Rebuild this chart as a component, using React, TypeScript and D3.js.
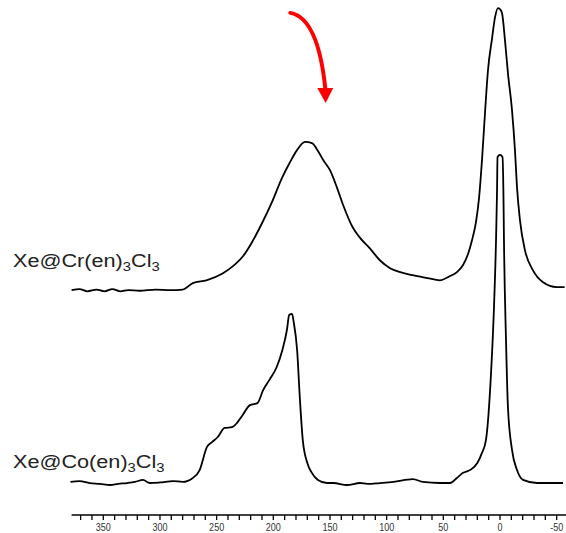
import React from "react";
import * as d3 from "d3";

// 129Xe NMR spectra, chemical shift (ppm) vs. intensity (a.u.)
const crShift = [378, 371, 364, 356, 349, 342, 335, 328, 318, 304, 291, 280, 271, 259, 244.4, 235.6, 226.8, 218.8, 210, 201.2, 192.4, 185.3, 179.1, 172, 165.9, 161, 156, 150, 144, 139, 130, 124, 115, 106, 97, 88, 77, 64, 53, 44, 38, 32.6, 28.2, 24.7, 21.2, 18.5, 15.9, 13.2, 10.6, 7, 4.4, 1.8, 0, -1.8, -4.4, -7, -10.6, -13.2, -15, -17.6, -22, -29, -38, -50, -57];
const crIntensity = [0, 0.4, -0.4, 0.2, -0.4, 0.4, -0.4, 0, -0.2, 0.2, 0, 0.2, 2.5, 3.5, 6.0, 8.5, 12.0, 17.0, 23.7, 31.2, 39.7, 45.3, 49.6, 52.5, 52.1, 49.6, 46.1, 42.5, 36.5, 30.8, 22.3, 18.8, 14.9, 10.6, 7.8, 6.4, 5.3, 4.3, 3.5, 5.0, 6.4, 8.9, 12.8, 17.7, 24.1, 32.6, 46.0, 63.0, 77.9, 89.2, 96.6, 99.9, 99.5, 98.1, 88.5, 76.9, 63.7, 49.6, 36.5, 24.8, 14.2, 7.1, 2.8, 1.1, 1.1];

const coShift = [379, 371, 362, 353, 344, 337, 329, 322, 315, 309, 300, 288.5, 280, 271, 265, 258.5, 254, 249, 243, 236.5, 232, 227, 220.6, 214, 209, 203, 197, 192, 188, 186, 183.5, 182, 179, 176.5, 174, 170, 166, 160.6, 152.6, 147, 135, 123.5, 117, 106, 94, 77, 68, 53, 44, 38, 32.6, 26.5, 20, 16, 12.4, 7.9, 5.3, 3.5, 2.6, 2.2, 0, -2.2, -3.1, -3.5, -5.3, -7, -10.6, -15, -20.3, -32.6, -44, -55.6];
const coIntensity = [1.1, 1.4, 0.7, 0.4, 0, 0.4, 0.7, 1.1, 1.8, 0.7, 0.9, 1.4, 1.1, 2.5, 5.3, 13.5, 15.2, 17.0, 20.2, 20.5, 22.0, 24.8, 28.3, 29.0, 33.6, 37.5, 41.8, 47.8, 54.9, 60.2, 60.6, 57.7, 47.8, 30.1, 15.9, 7.8, 4.3, 1.8, 0.7, 0.7, 0, 0.7, 0.4, 0.7, 1.1, 2.1, 1.1, 0.7, 0.7, 2.5, 4.3, 5.3, 7.8, 11.3, 15.9, 39.7, 63.0, 86.8, 104.5, 116.2, 116.9, 116.2, 100.9, 86.8, 51.4, 27.6, 12.4, 5.3, 1.8, 0.7, 0.7, 0.7];

const seriesNames = ["Cr", "Co"];
const seriesOffsets = [69, 0];
const tickLabels = [350, 300, 250, 200, 150, 100, 50, 0, -50];

// Annotation arrow (ppm, intensity on the Cr trace)
const arrowStart = [185, 98.2];
const arrowControl = [160.6, 96.4];
const arrowEnd = [154.2, 71.6];
const arrowTip = [153.8, 66.3];

const W = 566;
const H = 533;

function SampleLabel({ metal, x, y }: { metal: string; x: number; y: number }) {
  return (
    <text
      x={x}
      y={y}
      fontFamily="Arial, 'Liberation Sans', Helvetica, sans-serif"
      fontSize={19}
      fill="#222"
      transform={`translate(${x},0) scale(1.14,1) translate(${-x},0)`}
    >
      {`Xe@${metal}(en)`}
      <tspan fontSize={13} dy={4}>3</tspan>
      <tspan dy={-4}>Cl</tspan>
      <tspan fontSize={13} dy={4}>3</tspan>
    </text>
  );
}

export default function App() {
  const x = d3.scaleLinear().domain([350, 0]).range([103.3, 500]);
  const y = d3.scaleLinear().domain([0, 170]).range([485, 5]);
  const axisY = 515;
  const xMin = x(378);
  const xMax = W;

  const line = d3
    .line<[number, number]>()
    .x((d) => x(d[0]))
    .y((d) => y(d[1]))
    .curve(d3.curveMonotoneX);

  const traces = [
    crShift.map((s, i) => [s, crIntensity[i] + seriesOffsets[0]] as [number, number]),
    coShift.map((s, i) => [s, coIntensity[i] + seriesOffsets[1]] as [number, number]),
  ];

  const minorTicks = d3.range(-50, 371, 10);

  const off = seriesOffsets[0];
  const ax = (p: number[]) => [x(p[0]), y(p[1] + off)];
  const [sx, sy] = ax(arrowStart);
  const [cx, cy] = ax(arrowControl);
  const [ex, ey] = ax(arrowEnd);
  const [tx, ty] = ax(arrowTip);

  const font = "Arial, 'Liberation Sans', Helvetica, sans-serif";

  return (
    <svg
      width={W}
      height={H}
      style={{ position: "absolute", left: 0, top: 0, background: "#fff" }}
    >
      <rect width={W} height={H} fill="#fff" />
      {traces.map((t, i) => (
        <path
          key={seriesNames[i]}
          d={line(t) ?? ""}
          fill="none"
          stroke="#000"
          strokeWidth={1.8}
          strokeLinejoin="round"
        />
      ))}

      {/* axis */}
      <line x1={xMin} x2={xMax} y1={axisY} y2={axisY} stroke="#000" strokeWidth={1.6} />
      {minorTicks.map((t) => (
        <line key={t} x1={x(t)} x2={x(t)} y1={axisY} y2={axisY + 5} stroke="#000" strokeWidth={1.3} />
      ))}
      {tickLabels.map((t) => (
        <text
          key={t}
          x={x(t)}
          y={531}
          textAnchor="middle"
          fontFamily={font}
          fontSize={11}
          fill="#333"
          transform={`translate(${x(t)},0) scale(0.82,1) translate(${-x(t)},0)`}
        >
          {t}
        </text>
      ))}

      {/* sample labels */}
      <SampleLabel metal="Cr" x={13} y={267} />
      <SampleLabel metal="Co" x={13} y={468} />

      {/* arrow */}
      <path
        d={`M${sx},${sy} Q${cx},${cy} ${ex},${ey}`}
        fill="none"
        stroke="#ff0000"
        strokeWidth={4}
        strokeLinecap="round"
      />
      <path
        d={`M${ex - 8},${ey} L${ex + 8},${ey} L${tx},${ty} Z`}
        fill="#ff0000"
      />
    </svg>
  );
}
